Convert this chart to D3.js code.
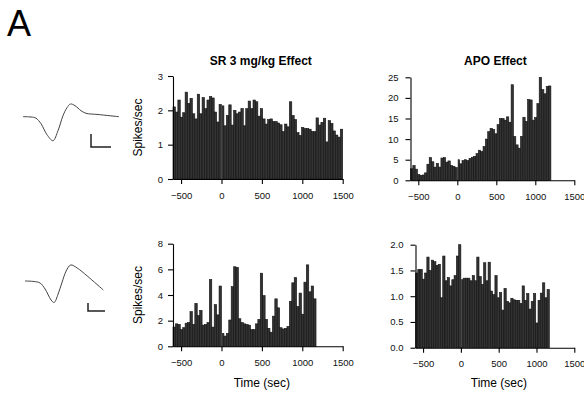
<!DOCTYPE html>
<html>
<head>
<meta charset="utf-8">
<script src="https://cdn.jsdelivr.net/npm/d3@7"></script>
<style>
  body { margin: 0; background: #fff; }
  svg { display: block; font-family: "Liberation Sans", Arial, sans-serif; }
</style>
</head>
<body>
<svg id="chart" width="584" height="395"></svg>
<script>
// bin width (sec) and start of every histogram
const binWidth = 30;
const binStart = -600;
const xTicks = [-500, 0, 500, 1000, 1500];

// SR 3 mg/kg, unit 1 (70 bins, -600..1500 s)
const srUnit1 = [2.1, 1.95, 2.3, 1.8, 1.93, 2.53, 2.2, 2.35, 1.9, 1.75,
  2.47, 1.9, 2.37, 2.05, 2.3, 2.4, 2.36, 1.95, 1.66, 2.17,
  2.13, 1.55, 1.85, 2.16, 1.57, 2.0, 1.9, 1.95, 2.05, 1.55,
  2.05, 2.27, 2.05, 2.3, 2.25, 1.83, 2.05, 1.75, 1.6, 1.73,
  1.75, 1.67, 1.67, 1.63, 1.58, 1.38, 1.6, 1.52, 2.25, 1.85,
  1.73, 1.35, 1.27, 1.5, 1.47, 1.47, 1.45, 1.38, 1.38, 1.78,
  1.57, 1.65, 1.77, 1.08, 1.7, 1.62, 1.4, 1.28, 1.22, 1.45];

// APO, unit 1 (60 bins, -600..1200 s)
const apoUnit1 = [2.8, 3.6, 2.7, 1.4, 1.2, 1.3, 1.8, 3.9, 5.5, 4.5,
  3.2, 4.1, 3.2, 5.4, 5.5, 4.4, 4.7, 3.6, 3.4, 3.1,
  5.0, 4.0, 4.8, 5.0, 4.8, 5.3, 5.6, 5.8, 6.5, 7.3,
  7.0, 8.2, 10.0, 11.8, 12.6, 12.3, 11.3, 13.5, 15.0, 15.0,
  14.6, 15.4, 14.1, 23.2, 10.6, 8.6, 7.8, 10.6, 15.3, 14.3,
  19.6, 19.5, 14.6, 15.2, 18.6, 25.0, 22.0, 21.0, 22.8, 22.9];

// SR 3 mg/kg, unit 2 (59 bins)
const srUnit2 = [1.5, 1.75, 1.7, 1.3, 1.45, 1.8, 1.85, 2.7, 1.7, 3.35,
  2.4, 2.8, 1.65, 1.7, 1.85, 5.2, 1.5, 3.25, 2.45, 4.7,
  1.0, 0.8, 1.0, 2.05, 4.65, 6.2, 6.15, 2.15, 1.85, 1.75,
  1.7, 1.65, 1.3, 1.3, 1.75, 2.1, 5.7, 3.95, 2.1, 1.4,
  1.1, 2.35, 3.7, 3.0, 1.45, 1.35, 1.4, 1.55, 3.5, 4.95,
  5.35, 3.1, 4.15, 2.5, 5.0, 6.35, 4.25, 4.7, 3.7];

// APO, unit 2 (59 bins)
const apoUnit2 = [1.45, 1.52, 1.52, 1.33, 1.45, 1.76, 1.5, 1.7, 1.67, 1.6,
  1.62, 0.97, 1.78, 1.3, 1.36, 1.2, 1.32, 1.4, 1.78, 2.0,
  1.32, 1.35, 1.35, 1.35, 1.3, 1.4, 1.3, 1.76, 1.38, 1.23,
  1.65, 1.3, 1.66, 1.1, 1.03, 1.4, 0.97, 1.07, 0.73, 1.15,
  0.9, 0.87, 0.96, 0.93, 0.92, 0.92, 0.86, 1.2, 0.92, 1.05,
  0.75, 0.9, 1.05, 0.48, 0.92, 1.06, 1.26, 0.97, 1.13];

// spike waveforms (time in arbitrary units, amplitude)
const wave1T = [0, 8, 13, 18, 24, 30, 35, 40, 44, 47.5, 52, 58, 63, 75, 96];
const wave1V = [0, -0.3, -1.5, -7, -18, -24, -14, 1, 9, 12.7, 11, 6, 3.4, 2.2, 0];
const wave2T = [0, 9, 15, 20, 26, 29, 33, 37, 41, 45.5, 52, 62, 78];
const wave2V = [0, -0.5, -2, -8, -19, -21.5, -13, -1, 10, 16, 13, 5, -9];

const svg = d3.select("#chart");

svg.append("text")
  .attr("x", 7).attr("y", 36)
  .attr("font-size", 36)
  .text("A");

const panels = [
  {data: srUnit1, title: "SR 3 mg/kg Effect", yMax: 3, yTicks: [0, 1, 2, 3], fmt: d3.format("d"),
    x0: 173, x1: 342.7, yb: 179, yt: 76, pad: 5, ylabel: true},
  {data: apoUnit1, title: "APO Effect", yMax: 25, yTicks: [0, 5, 10, 15, 20, 25], fmt: d3.format("d"),
    x0: 410.5, x1: 574.3, yb: 180.3, yt: 77.3, pad: 7},
  {data: srUnit2, yMax: 8, yTicks: [0, 2, 4, 6, 8], fmt: d3.format("d"),
    x0: 173, x1: 342.7, yb: 346.3, yt: 243.7, pad: 5, ylabel: true, xlabel: true},
  {data: apoUnit2, yMax: 2, yTicks: [0, 0.5, 1, 1.5, 2], fmt: d3.format(".1f"),
    x0: 415.5, x1: 574.3, yb: 347.7, yt: 244.7, pad: 7, xlabel: true}
];

panels.forEach(p => {
  const x = d3.scaleLinear().domain([-600, 1500]).range([p.x0, p.x1]);
  const y = d3.scaleLinear().domain([0, p.yMax]).range([p.yb, p.yt]);
  const g = svg.append("g");

  g.selectAll("rect")
    .data(p.data)
    .enter().append("rect")
    .attr("x", (d, i) => {
      const t = binStart + i * binWidth;
      return x(t) + (t === 0 ? 0.8 : 0);
    })
    .attr("width", (d, i) => {
      const t = binStart + i * binWidth;
      return x(t + binWidth) - x(t) - (t === 0 ? 0.8 : 0);
    })
    .attr("y", d => y(d))
    .attr("height", d => y(0) - y(d))
    .attr("fill", "#333")
    .attr("stroke", "#111")
    .attr("stroke-width", 0.6);

  const xAxis = g.append("g")
    .attr("transform", `translate(0,${p.yb})`)
    .call(d3.axisBottom(x).tickValues(xTicks).tickFormat(d3.format("d"))
      .tickSize(5).tickSizeOuter(0).tickPadding(8));
  const yAxis = g.append("g")
    .attr("transform", `translate(${p.x0},0)`)
    .call(d3.axisLeft(y).tickValues(p.yTicks).tickFormat(p.fmt).tickSize(5).tickSizeOuter(0).tickPadding(p.pad));

  [xAxis, yAxis].forEach(a => {
    a.selectAll("path, line").attr("stroke", "#000").attr("stroke-width", 1.1);
    a.selectAll("text").attr("font-size", 9.5).attr("fill", "#111");
  });

  if (p.title) {
    g.append("text")
      .attr("x", (p.x0 + p.x1) / 2 + 3).attr("y", 65)
      .attr("text-anchor", "middle")
      .attr("font-size", 12).attr("font-weight", "bold")
      .text(p.title);
  }
  if (p.ylabel) {
    g.append("text")
      .attr("transform", `translate(142,${(p.yb + p.yt) / 2}) rotate(-90)`)
      .attr("text-anchor", "middle")
      .attr("font-size", 12)
      .text("Spikes/sec");
  }
  if (p.xlabel) {
    g.append("text")
      .attr("x", (p.x0 + p.x1) / 2 + 4).attr("y", 387)
      .attr("text-anchor", "middle")
      .attr("font-size", 12)
      .text("Time (sec)");
  }
});

// waveforms with scale bars
const waves = [
  {t: wave1T, v: wave1V, x0: 23, x1: 119, base: 116.7, bar: {x: 91, y: 147, w: 20, h: 13}},
  {t: wave2T, v: wave2V, x0: 25, x1: 103.3, base: 281, bar: {x: 88, y: 311, w: 17, h: 8}}
];

waves.forEach(w => {
  const pts = w.t.map((t, i) => [t, w.v[i]]);
  const wx = d3.scaleLinear().domain(d3.extent(w.t)).range([w.x0, w.x1]);
  const wy = d3.scaleLinear().domain([0, 1]).range([w.base, w.base - 1]);
  const line = d3.line().x(d => wx(d[0])).y(d => wy(d[1])).curve(d3.curveCatmullRom);
  svg.append("path")
    .attr("d", line(pts))
    .attr("fill", "none")
    .attr("stroke", "#444")
    .attr("stroke-width", 1);
  svg.append("path")
    .attr("d", `M${w.bar.x},${w.bar.y - w.bar.h}V${w.bar.y}H${w.bar.x + w.bar.w}`)
    .attr("fill", "none")
    .attr("stroke", "#222")
    .attr("stroke-width", 1.5);
});
</script>
</body>
</html>
